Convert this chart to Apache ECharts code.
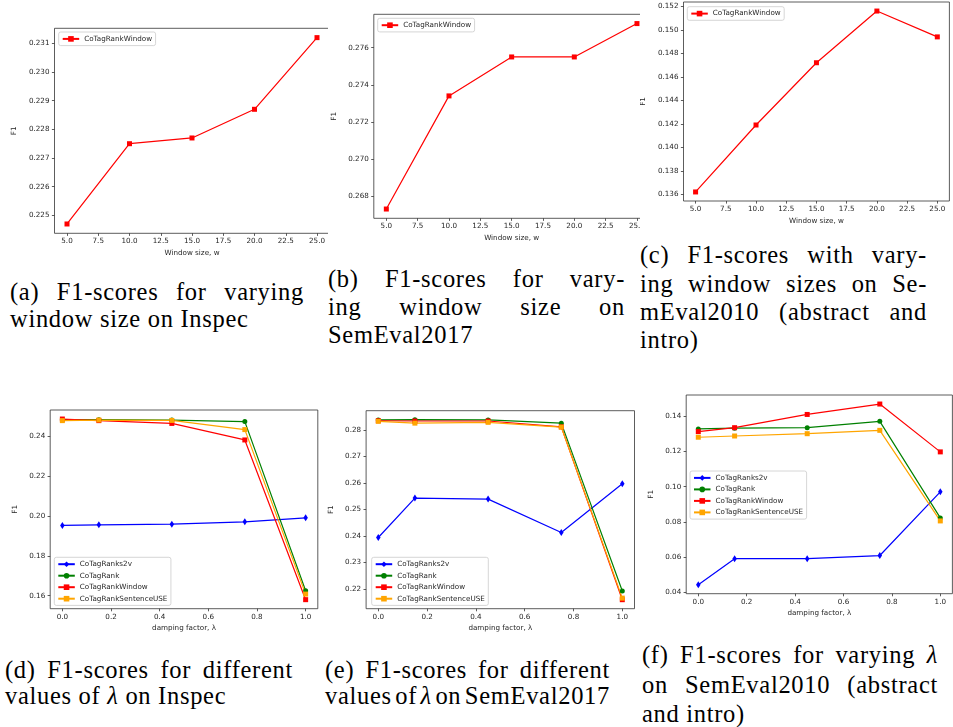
<!DOCTYPE html>
<html><head><meta charset="utf-8">
<script src="https://cdn.jsdelivr.net/npm/echarts@6/dist/echarts.min.js"></script>
<style>
html,body{margin:0;padding:0;background:#fff;}
#page{position:relative;width:953px;height:727px;overflow:hidden;background:#fff;}
.clip{position:absolute;overflow:hidden;}
.cap{position:absolute;font-family:"Liberation Serif",serif;font-size:24.5px;line-height:28px;height:28px;color:#000;white-space:nowrap;letter-spacing:0.7px;}
.j{display:flex;justify-content:space-between;flex-wrap:nowrap;}
.j span{flex-shrink:0;}
</style></head><body>
<div id="page"></div>
<script>
// ---------------- data ----------------
const windowSizes = [5, 10, 15, 20, 25];
const windowTicks = [5, 7.5, 10, 12.5, 15, 17.5, 20, 22.5, 25];

const inspecWindowF1 = [0.2247, 0.2275, 0.2277, 0.2287, 0.2312];
const inspecWindowTicks = [0.225, 0.226, 0.227, 0.228, 0.229, 0.230, 0.231];

const semeval2017WindowF1 = [0.2673, 0.2734, 0.2755, 0.2755, 0.2773];
const semeval2017WindowTicks = [0.268, 0.270, 0.272, 0.274, 0.276];

const semeval2010WindowF1 = [0.1362, 0.1419, 0.1472, 0.1516, 0.1494];
const semeval2010WindowTicks = [0.136, 0.138, 0.140, 0.142, 0.144, 0.146, 0.148, 0.150, 0.152];

const dampingFactors = [0, 0.15, 0.45, 0.75, 1.0];
const lambdaTicks = [0, 0.2, 0.4, 0.6, 0.8, 1.0];

const inspecS2v     = [0.1953, 0.1956, 0.1959, 0.1971, 0.1991];
const inspecRank    = [0.2484, 0.2484, 0.2482, 0.2474, 0.1625];
const inspecWindow  = [0.2487, 0.2479, 0.2465, 0.2382, 0.1580];
const inspecSentUSE = [0.2479, 0.2482, 0.2480, 0.2434, 0.1608];
const inspecLambdaTicks = [0.16, 0.18, 0.20, 0.22, 0.24];

const se2017S2v     = [0.2394, 0.2543, 0.2539, 0.2413, 0.2597];
const se2017Rank    = [0.2838, 0.2839, 0.2838, 0.2826, 0.2192];
const se2017Window  = [0.2835, 0.2834, 0.2834, 0.2812, 0.2159];
const se2017SentUSE = [0.2833, 0.2826, 0.2829, 0.2811, 0.2165];
const se2017LambdaTicks = [0.22, 0.23, 0.24, 0.25, 0.26, 0.27, 0.28];

const se2010S2v     = [0.0445, 0.0592, 0.0592, 0.0610, 0.0971];
const se2010Rank    = [0.1327, 0.1331, 0.1334, 0.1370, 0.0823];
const se2010Window  = [0.1312, 0.1334, 0.1409, 0.1468, 0.1197];
const se2010SentUSE = [0.1280, 0.1287, 0.1300, 0.1319, 0.0806];
const se2010LambdaTicks = [0.04, 0.06, 0.08, 0.10, 0.12, 0.14];

// ---------------- captions ----------------
const captionA = ['(a) F1-scores for varying', 'window size on Inspec'];
const captionB = ['(b) F1-scores for vary-', 'ing window size on', 'SemEval2017'];
const captionC = ['(c) F1-scores with vary-', 'ing window sizes on Se-', 'mEval2010 (abstract and', 'intro)'];
const captionD = ['(d) F1-scores for different', 'values of λ on Inspec'];
const captionE = ['(e) F1-scores for different', 'values of λ on SemEval2017'];
const captionF = ['(f) F1-scores for varying λ', 'on SemEval2010 (abstract', 'and intro)'];

const captionLayout = [
  {text: captionA, x: 10, w: 294, tops: [277.5, 305], just: [true, false]},
  {text: captionB, x: 328, w: 297, tops: [264.5, 293, 321.3], just: [true, true, false]},
  {text: captionC, x: 640, w: 287, tops: [241.3, 269.7, 298, 326.3], just: [true, true, true, false]},
  {text: captionD, x: 5, w: 288, tops: [655.5, 681.5], just: [true, false]},
  {text: captionE, x: 325, w: 285, tops: [655.5, 681.5], just: [true, true]},
  {text: captionF, x: 642, w: 296, tops: [641.3, 671.3, 699.7], just: [true, true, false]}
];

// ---------------- styles ----------------
const STY = {
  s2v:    {name: 'CoTagRanks2v', color: '#0000ff', symbol: 'diamond', size: [4.5, 7]},
  rank:   {name: 'CoTagRank', color: '#008000', symbol: 'circle', size: 5},
  window: {name: 'CoTagRankWindow', color: '#ff0000', symbol: 'rect', size: 5},
  sent:   {name: 'CoTagRankSentenceUSE', color: '#ffa500', symbol: 'rect', size: 5}
};

const panels = [
  {clip: [0, 0, 328, 262], innerW: 340, grid: [54.5, 28.3, 329.5, 233.3],
   xs: windowSizes, xTicks: windowTicks, xDec: 1, xName: 'Window size, w', xGap: 16.4,
   yTicks: inspecWindowTicks, yDec: 3, yGap: 31,
   series: [[STY.window, inspecWindowF1]], legend: [58.7, 32]},
  {clip: [328, 0, 312, 250], innerW: 335, grid: [373.8, 14.3, 649.5, 218.3],
   xs: windowSizes, xTicks: windowTicks, xDec: 1, xName: 'Window size, w', xGap: 16.4,
   yTicks: semeval2017WindowTicks, yDec: 3, yGap: 31.9,
   series: [[STY.window, semeval2017WindowF1]], legend: [377.7, 18.3]},
  {clip: [640, 0, 313, 235], innerW: 313, grid: [683.5, 2, 949.4, 201],
   xs: windowSizes, xTicks: windowTicks, xDec: 1, xName: 'Window size, w', xGap: 16.1,
   yTicks: semeval2010WindowTicks, yDec: 3, yGap: 30.9,
   series: [[STY.window, semeval2010WindowF1]], legend: [687.3, 6.7]},
  {clip: [0, 385, 320, 255], innerW: 320, grid: [50.2, 410, 317.8, 608.7],
   xs: dampingFactors, xTicks: lambdaTicks, xDec: 1, xName: 'damping factor, λ', xGap: 15,
   yTicks: inspecLambdaTicks, yDec: 2, yGap: 25.6,
   series: [[STY.s2v, inspecS2v], [STY.rank, inspecRank], [STY.window, inspecWindow], [STY.sent, inspecSentUSE]],
   legend: [54.3, 557.3]},
  {clip: [320, 385, 316, 255], innerW: 316, grid: [366.1, 410.7, 634.5, 608.7],
   xs: dampingFactors, xTicks: lambdaTicks, xDec: 1, xName: 'damping factor, λ', xGap: 16,
   yTicks: se2017LambdaTicks, yDec: 2, yGap: 24.8,
   series: [[STY.s2v, se2017S2v], [STY.rank, se2017Rank], [STY.window, se2017Window], [STY.sent, se2017SentUSE]],
   legend: [371.7, 557.3]},
  {clip: [636, 385, 317, 245], innerW: 318, grid: [686.2, 395, 952.4, 593.7],
   xs: dampingFactors, xTicks: lambdaTicks, xDec: 1, xName: 'damping factor, λ', xGap: 16,
   yTicks: se2010LambdaTicks, yDec: 2, yGap: 25.3,
   series: [[STY.s2v, se2010S2v], [STY.rank, se2010Rank], [STY.window, se2010Window], [STY.sent, se2010SentUSE]],
   legend: [690, 471]}
];

const FONT = 'DejaVu Sans';
const TXT = '#262626';
const FS = 7.2;

const page = document.getElementById('page');

function wordHtml(w) {
  return w.replace(/λ/g, '<i>λ</i>');
}
captionLayout.forEach(c => {
  c.text.forEach((line, i) => {
    const d = document.createElement('div');
    d.className = 'cap' + (c.just[i] ? ' j' : '');
    d.style.left = c.x + 'px';
    d.style.top = c.tops[i] + 'px';
    if (c.just[i]) {
      d.style.width = c.w + 'px';
      d.innerHTML = line.split(' ').map(w => '<span>' + wordHtml(w) + '</span>').join('');
    } else {
      d.innerHTML = wordHtml(line);
    }
    page.appendChild(d);
  });
});

function autoRange(vals) {
  const lo = Math.min.apply(null, vals), hi = Math.max.apply(null, vals);
  const m = (hi - lo) * 0.05;
  return [lo - m, hi + m];
}

function axisCommon(ticks, dec, name, gap, isY) {
  return {
    type: 'value',
    name: name, nameLocation: 'middle', nameGap: gap,
    nameTextStyle: {fontFamily: FONT, fontSize: FS, color: TXT},
    axisLine: {show: false, onZero: false},
    axisTick: {show: true, length: 2.6, customValues: ticks, lineStyle: {color: '#333', width: 0.8}},
    axisLabel: {customValues: ticks, fontFamily: FONT, fontSize: FS, color: TXT,
      margin: isY ? 5 : 4.5, formatter: v => Number(v).toFixed(dec)},
    splitLine: {show: false}
  };
}

panels.forEach(p => {
  const [cx, cy, cw, ch] = p.clip;
  const outer = document.createElement('div');
  outer.className = 'clip';
  outer.style.cssText = `left:${cx}px;top:${cy}px;width:${cw}px;height:${ch}px;`;
  const inner = document.createElement('div');
  inner.style.cssText = `width:${p.innerW}px;height:${ch}px;`;
  outer.appendChild(inner);
  page.appendChild(outer);

  const allY = [].concat.apply([], p.series.map(s => s[1]));
  const [ymin, ymax] = autoRange(allY);
  const [xmin, xmax] = autoRange(p.xs);

  const xAxis = axisCommon(p.xTicks, p.xDec, p.xName, p.xGap, false);
  xAxis.min = xmin; xAxis.max = xmax;
  const yAxis = axisCommon(p.yTicks, p.yDec, 'F1', p.yGap, true);
  yAxis.min = ymin; yAxis.max = ymax;

  const chart = echarts.init(inner, null, {renderer: 'canvas'});
  chart.setOption({
    animation: false,
    textStyle: {fontFamily: FONT},
    grid: {left: p.grid[0] - cx, top: p.grid[1] - cy,
      width: p.grid[2] - p.grid[0], height: p.grid[3] - p.grid[1],
      show: true, borderColor: '#333', borderWidth: 0.8, backgroundColor: 'transparent',
      containLabel: false, outerBoundsMode: 'none'},
    legend: {
      left: p.legend[0] - cx, top: p.legend[1] - cy, orient: 'vertical',
      data: p.series.map(s => s[0].name),
      itemWidth: 16.5, itemHeight: 7, itemGap: 4.5,
      padding: [3.4, 3.5, 3.2, 3],
      borderColor: '#cccccc', borderWidth: 0.8, borderRadius: 2,
      backgroundColor: 'rgba(255,255,255,0.8)',
      selectedMode: false,
      textStyle: {fontFamily: FONT, fontSize: FS, color: TXT, padding: [0, 0, 0, 0]}
    },
    xAxis: xAxis,
    yAxis: yAxis,
    series: p.series.map(([st, vals]) => ({
      type: 'line', name: st.name,
      data: p.xs.map((x, i) => [x, vals[i]]),
      symbol: st.symbol, symbolSize: st.size,
      showSymbol: true,
      itemStyle: {color: st.color},
      lineStyle: {color: st.color, width: 1.2},
      emphasis: {disabled: true},
      clip: false
    }))
  });
});
</script>
</body></html>
